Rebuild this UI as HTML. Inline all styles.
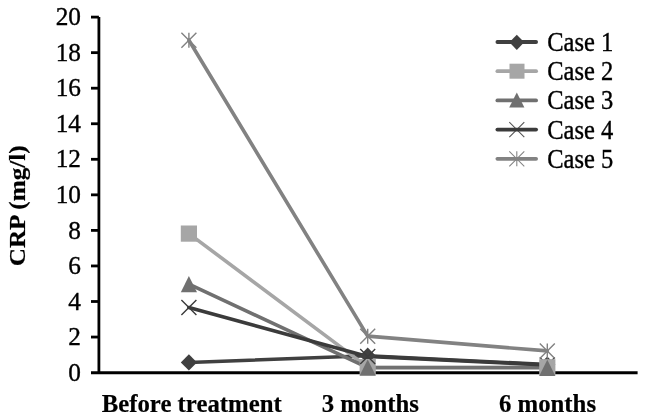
<!DOCTYPE html>
<html><head><meta charset="utf-8"><title>CRP chart</title>
<style>
html,body{margin:0;padding:0;background:#fff;}
body{width:646px;height:420px;overflow:hidden;}
svg{display:block;filter:grayscale(1);}
text{font-family:"Liberation Serif",serif;fill:#000;stroke:#000;stroke-width:0.35px;}
.b{stroke-width:0.2px;}
.b{font-weight:bold;}
</style></head><body>
<svg width="646" height="420" viewBox="0 0 646 420">
<rect width="646" height="420" fill="#fff"/>
<polyline points="188.90,362.47 367.70,355.71 547.30,364.60" fill="none" stroke="#404040" stroke-width="3.6" stroke-linejoin="round" stroke-linecap="round"/>
<polyline points="188.90,233.60 367.70,367.09 547.30,367.27" fill="none" stroke="#a6a6a6" stroke-width="3.6" stroke-linejoin="round" stroke-linecap="round"/>
<polyline points="188.90,284.08 367.70,367.62 547.30,367.80" fill="none" stroke="#707070" stroke-width="3.6" stroke-linejoin="round" stroke-linecap="round"/>
<polyline points="188.90,307.54 367.70,356.42 547.30,364.96" fill="none" stroke="#3b3b3b" stroke-width="3.6" stroke-linejoin="round" stroke-linecap="round"/>
<polyline points="188.90,40.21 367.70,336.16 547.30,350.91" fill="none" stroke="#828282" stroke-width="3.6" stroke-linejoin="round" stroke-linecap="round"/>
<g stroke="#000" stroke-width="2.8" fill="none">
<path d="M98.9,17.10 V372.6"/>
<path d="M91,372.75 H637.6" stroke-width="2.9"/>
<path d="M91,337.05 H98.9"/>
<path d="M91,301.50 H98.9"/>
<path d="M91,265.95 H98.9"/>
<path d="M91,230.40 H98.9"/>
<path d="M91,194.85 H98.9"/>
<path d="M91,159.30 H98.9"/>
<path d="M91,123.75 H98.9"/>
<path d="M91,88.20 H98.9"/>
<path d="M91,52.65 H98.9"/>
<path d="M91,17.10 H98.9"/>
</g>
<path d="M180.80,362.47 L188.90,354.37 L197.00,362.47 L188.90,370.57 Z" fill="#404040"/>
<rect x="180.80" y="225.50" width="16.20" height="16.20" fill="#a6a6a6"/>
<path d="M188.90,275.98 L197.00,292.18 L180.80,292.18 Z" fill="#707070"/>
<path d="M181.40,300.04 L196.40,315.04 M181.40,315.04 L196.40,300.04" stroke="#3b3b3b" stroke-width="1.4" fill="none"/>
<path d="M181.40,32.71 L196.40,47.71 M181.40,47.71 L196.40,32.71 M188.90,32.71 L188.90,47.71" stroke="#828282" stroke-width="1.4" fill="none"/>
<path d="M359.60,355.71 L367.70,347.61 L375.80,355.71 L367.70,363.81 Z" fill="#404040"/>
<rect x="359.60" y="358.99" width="16.20" height="16.20" fill="#a6a6a6"/>
<path d="M367.70,359.52 L375.80,375.72 L359.60,375.72 Z" fill="#707070"/>
<path d="M360.20,348.92 L375.20,363.92 M360.20,363.92 L375.20,348.92" stroke="#3b3b3b" stroke-width="1.4" fill="none"/>
<path d="M360.20,328.66 L375.20,343.66 M360.20,343.66 L375.20,328.66 M367.70,328.66 L367.70,343.66" stroke="#828282" stroke-width="1.4" fill="none"/>
<path d="M539.20,364.60 L547.30,356.50 L555.40,364.60 L547.30,372.70 Z" fill="#404040"/>
<path d="M539.80,357.46 L554.80,372.46 M539.80,372.46 L554.80,357.46" stroke="#3b3b3b" stroke-width="1.4" fill="none"/>
<rect x="539.20" y="359.17" width="16.20" height="16.20" fill="#a6a6a6"/>
<path d="M547.30,359.70 L555.40,375.90 L539.20,375.90 Z" fill="#707070"/>
<path d="M539.80,343.41 L554.80,358.41 M539.80,358.41 L554.80,343.41 M547.30,343.41 L547.30,358.41" stroke="#828282" stroke-width="1.4" fill="none"/>
<text x="81" y="380.70" font-size="25.3" text-anchor="end">0</text>
<text x="81" y="345.15" font-size="25.3" text-anchor="end">2</text>
<text x="81" y="309.60" font-size="25.3" text-anchor="end">4</text>
<text x="81" y="274.05" font-size="25.3" text-anchor="end">6</text>
<text x="81" y="238.50" font-size="25.3" text-anchor="end">8</text>
<text x="81" y="202.95" font-size="25.3" text-anchor="end">10</text>
<text x="81" y="167.40" font-size="25.3" text-anchor="end">12</text>
<text x="81" y="131.85" font-size="25.3" text-anchor="end">14</text>
<text x="81" y="96.30" font-size="25.3" text-anchor="end">16</text>
<text x="81" y="60.75" font-size="25.3" text-anchor="end">18</text>
<text x="81" y="25.20" font-size="25.3" text-anchor="end">20</text>
<text class="b" transform="translate(191.7,411.9) scale(1,1.035)" font-size="24.8" text-anchor="middle">Before treatment</text>
<text class="b" transform="translate(370.3,411.9) scale(1,1.035)" font-size="24.8" text-anchor="middle">3 months</text>
<text class="b" transform="translate(547.5,411.9) scale(1,1.035)" font-size="24.8" text-anchor="middle">6 months</text>
<text class="b" font-size="25.2" text-anchor="middle" transform="translate(24.7,205.8) rotate(-90) scale(1,0.94)">CRP (mg/l)</text>
<path d="M497.4,42.00 H536.1" stroke="#404040" stroke-width="3.8" stroke-linecap="round"/>
<path d="M509.40,42.30 L516.80,34.70 L524.20,42.30 L516.80,49.90 Z" fill="#404040"/>
<text transform="translate(547.2,50.90) scale(1,1.115)" font-size="24.5">Case 1</text>
<path d="M497.4,71.20 H536.1" stroke="#a6a6a6" stroke-width="3.8" stroke-linecap="round"/>
<rect x="509.50" y="63.70" width="15.00" height="15.00" fill="#a6a6a6"/>
<text transform="translate(547.2,80.10) scale(1,1.115)" font-size="24.5">Case 2</text>
<path d="M497.4,100.40 H536.1" stroke="#707070" stroke-width="3.8" stroke-linecap="round"/>
<path d="M516.80,92.50 L524.40,107.50 L509.20,107.50 Z" fill="#707070"/>
<text transform="translate(547.2,109.30) scale(1,1.115)" font-size="24.5">Case 3</text>
<path d="M509.30,122.10 L524.30,137.10 M509.30,137.10 L524.30,122.10" stroke="#555555" stroke-width="1.1" fill="none"/>
<path d="M497.4,129.60 H536.1" stroke="#3b3b3b" stroke-width="3.8" stroke-linecap="round"/>
<text transform="translate(547.2,138.50) scale(1,1.115)" font-size="24.5">Case 4</text>
<path d="M509.30,151.30 L524.30,166.30 M509.30,166.30 L524.30,151.30 M516.80,151.30 L516.80,166.30" stroke="#858585" stroke-width="1.1" fill="none"/>
<path d="M497.4,158.80 H536.1" stroke="#828282" stroke-width="3.8" stroke-linecap="round"/>
<text transform="translate(547.2,167.70) scale(1,1.115)" font-size="24.5">Case 5</text>
</svg></body></html>
